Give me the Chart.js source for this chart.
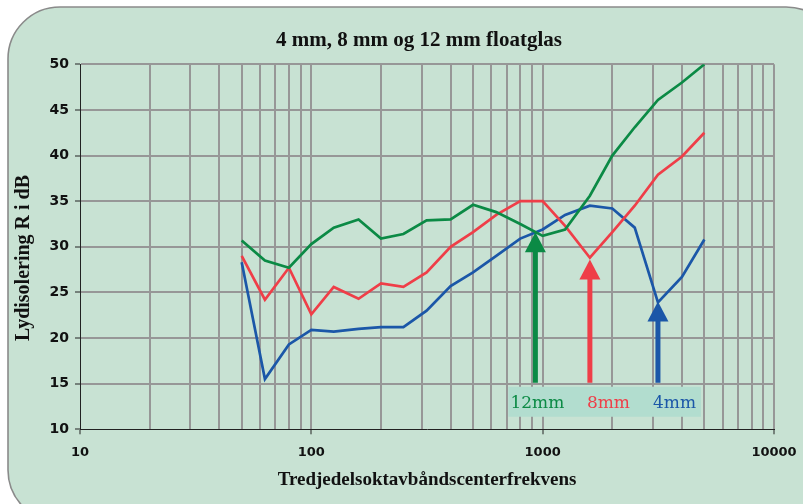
<!DOCTYPE html>
<html>
<head>
<meta charset="utf-8">
<script src="https://cdn.jsdelivr.net/npm/chart.js@4"></script>
<style>
html,body{margin:0;padding:0;background:#fff;}
canvas{display:block;}
</style>
</head>
<body>
<canvas id="c" width="803" height="504" style="width:803px;height:504px"></canvas>
<script>
// ---- data ----
const frequencies = [50, 63, 80, 100, 125, 160, 200, 250, 315, 400, 500, 630, 800, 1000, 1250, 1600, 2000, 2500, 3150, 4000, 5000];
const glass12mm = [30.7, 28.5, 27.7, 30.3, 32.1, 33.0, 30.9, 31.4, 32.9, 33.0, 34.6, 33.8, 32.5, 31.2, 31.9, 35.6, 40.0, 43.1, 46.1, 48.0, 50.0];
const glass8mm  = [29.0, 24.2, 27.7, 22.6, 25.6, 24.3, 26.0, 25.6, 27.2, 30.0, 31.6, 33.5, 35.0, 35.0, 32.3, 28.8, 31.6, 34.5, 37.9, 39.9, 42.5];
const glass4mm  = [28.3, 15.5, 19.3, 20.9, 20.7, 21.0, 21.2, 21.2, 23.0, 25.7, 27.2, 29.0, 30.9, 31.9, 33.5, 34.5, 34.2, 32.1, 23.9, 26.7, 30.8];
const seriesNames = ['12mm', '8mm', '4mm'];
const xTickValues = [10, 20, 30, 40, 50, 60, 70, 80, 90, 100, 200, 300, 400, 500, 600, 700, 800, 900, 1000, 2000, 3000, 4000, 5000, 6000, 7000, 8000, 9000, 10000];
const xLabelValues = [10, 100, 1000, 10000];
const yMin = 10, yMax = 50, yStep = 5;
const arrowFreqs = [930, 1600, 3150];
const arrowTips = [31.6, 28.6, 24.0];
const arrowBase = 15.1;
const titleText = '4 mm, 8 mm og 12 mm floatglas';
const xTitleText = 'Tredjedelsoktavbåndscenterfrekvens';
const yTitleText = 'Lydisolering R i dB';

// ---- styles ----
const colors = ['#0b8a45', '#ef3e48', '#1b57a8'];
const BG = '#c8e2d3';
const GRID = '#979797';
const serif = "'Liberation Serif', 'Times New Roman', serif";
const sans = "'DejaVu Sans', Verdana, sans-serif";

const series = [glass12mm, glass8mm, glass4mm];
const datasets = series.map((s, i) => ({
  label: seriesNames[i],
  data: frequencies.map((f, j) => ({x: f, y: s[j]})),
  borderColor: colors[i],
  backgroundColor: colors[i],
  borderWidth: 2.7,
  pointRadius: 0,
  tension: 0,
  fill: false
}));

const decorPlugin = {
  id: 'decor',
  beforeDraw(chart) {
    const ctx = chart.ctx;
    ctx.save();
    ctx.fillStyle = '#ffffff';
    ctx.fillRect(0, 0, chart.width, chart.height);
    const x = 8, y = 7, w = 830, h = 515, r = 52;
    ctx.beginPath();
    ctx.moveTo(x + r, y);
    ctx.lineTo(x + w - r, y);
    ctx.arcTo(x + w, y, x + w, y + r, r);
    ctx.lineTo(x + w, y + h - r);
    ctx.arcTo(x + w, y + h, x + w - r, y + h, r);
    ctx.lineTo(x + r, y + h);
    ctx.arcTo(x, y + h, x, y + h - r, r);
    ctx.lineTo(x, y + r);
    ctx.arcTo(x, y, x + r, y, r);
    ctx.closePath();
    ctx.fillStyle = BG;
    ctx.fill();
    ctx.lineWidth = 1.6;
    ctx.strokeStyle = '#8a8a8a';
    ctx.stroke();
    ctx.restore();
  },
  afterDatasetsDraw(chart) {
    const ctx = chart.ctx;
    const xs = chart.scales.x, ys = chart.scales.y;
    const px = arrowFreqs.map(f => xs.getPixelForValue(f));
    ctx.save();
    // label box
    const boxL = px[0] - 27, boxR = px[2] + 43;
    const boxT = ys.getPixelForValue(arrowBase) + 4;
    const boxB = boxT + 30;
    ctx.fillStyle = '#b2ddcf';
    ctx.fillRect(boxL, boxT, boxR - boxL, boxB - boxT);
    // arrows
    px.forEach((x, i) => {
      const tipY = ys.getPixelForValue(arrowTips[i]);
      const baseY = ys.getPixelForValue(arrowBase);
      ctx.fillStyle = colors[i];
      ctx.fillRect(x - 2.5, tipY + 18, 5, baseY - tipY - 18);
      ctx.beginPath();
      ctx.moveTo(x, tipY);
      ctx.lineTo(x + 10.5, tipY + 20);
      ctx.lineTo(x - 10.5, tipY + 20);
      ctx.closePath();
      ctx.fill();
    });
    // labels
    const offs = [-25, -3, -5];
    ctx.font = "17px 'DejaVu Serif', serif";
    ctx.textBaseline = 'alphabetic';
    ctx.textAlign = 'left';
    seriesNames.forEach((n, i) => {
      ctx.fillStyle = colors[i];
      ctx.fillText(n, px[i] + offs[i], boxT + 21.5);
    });
    ctx.restore();
  },
  afterDraw(chart) {
    const ctx = chart.ctx;
    ctx.save();
    ctx.fillStyle = '#111';
    ctx.font = "bold 21px " + serif;
    ctx.textAlign = 'center';
    ctx.textBaseline = 'middle';
    ctx.fillText(titleText, 419, 41);
    ctx.translate(24, 258);
    ctx.rotate(-Math.PI / 2);
    ctx.font = "bold 20px " + serif;
    ctx.fillText(yTitleText, 0, 0);
    ctx.restore();
  }
};

new Chart(document.getElementById('c'), {
  type: 'line',
  data: {datasets},
  plugins: [decorPlugin],
  options: {
    responsive: false,
    animation: false,
    devicePixelRatio: 1,
    layout: {padding: {left: 0, right: 29, top: 64.3, bottom: 0}},
    plugins: {legend: {display: false}, tooltip: {enabled: false}, title: {display: false}},
    scales: {
      x: {
        type: 'logarithmic',
        min: 10, max: 10000,
        afterBuildTicks: s => { s.ticks = xTickValues.map(v => ({value: v, major: xLabelValues.includes(v)})); },
        afterFit: s => { s.height = 74.7; s.paddingLeft = 0; s.paddingRight = 0; },
        ticks: {
          autoSkip: false, maxRotation: 0, minRotation: 0,
          callback: v => xLabelValues.includes(v) ? String(v) : '',
          font: {family: sans, size: 13, weight: 'bold'},
          color: '#111',
          padding: 11
        },
        grid: {
          color: c => (c.tick && c.tick.value === 10) ? 'rgba(0,0,0,0)' : GRID,
          lineWidth: 2,
          tickLength: 5,
          tickWidth: 1,
          tickColor: c => (c.tick && c.tick.major) ? '#222' : 'rgba(0,0,0,0)'
        },
        border: {color: '#222', width: 1},
        title: {
          display: true, text: xTitleText, color: '#111',
          font: {family: serif, size: 19, weight: 'bold'},
          padding: {top: 0, bottom: 12.6}
        }
      },
      y: {
        type: 'linear',
        min: yMin, max: yMax,
        afterFit: s => { s.width = 80; s.paddingTop = 0; s.paddingBottom = 0; },
        ticks: {
          stepSize: yStep,
          font: {family: sans, size: 14, weight: 'bold'},
          color: '#111',
          padding: 6
        },
        grid: {
          color: c => (c.tick && c.tick.value === yMin) ? 'rgba(0,0,0,0)' : GRID,
          lineWidth: 2,
          tickLength: 5,
          tickWidth: 1,
          tickColor: '#222'
        },
        border: {color: '#222', width: 1}
      }
    }
  }
});
</script>
</body>
</html>
